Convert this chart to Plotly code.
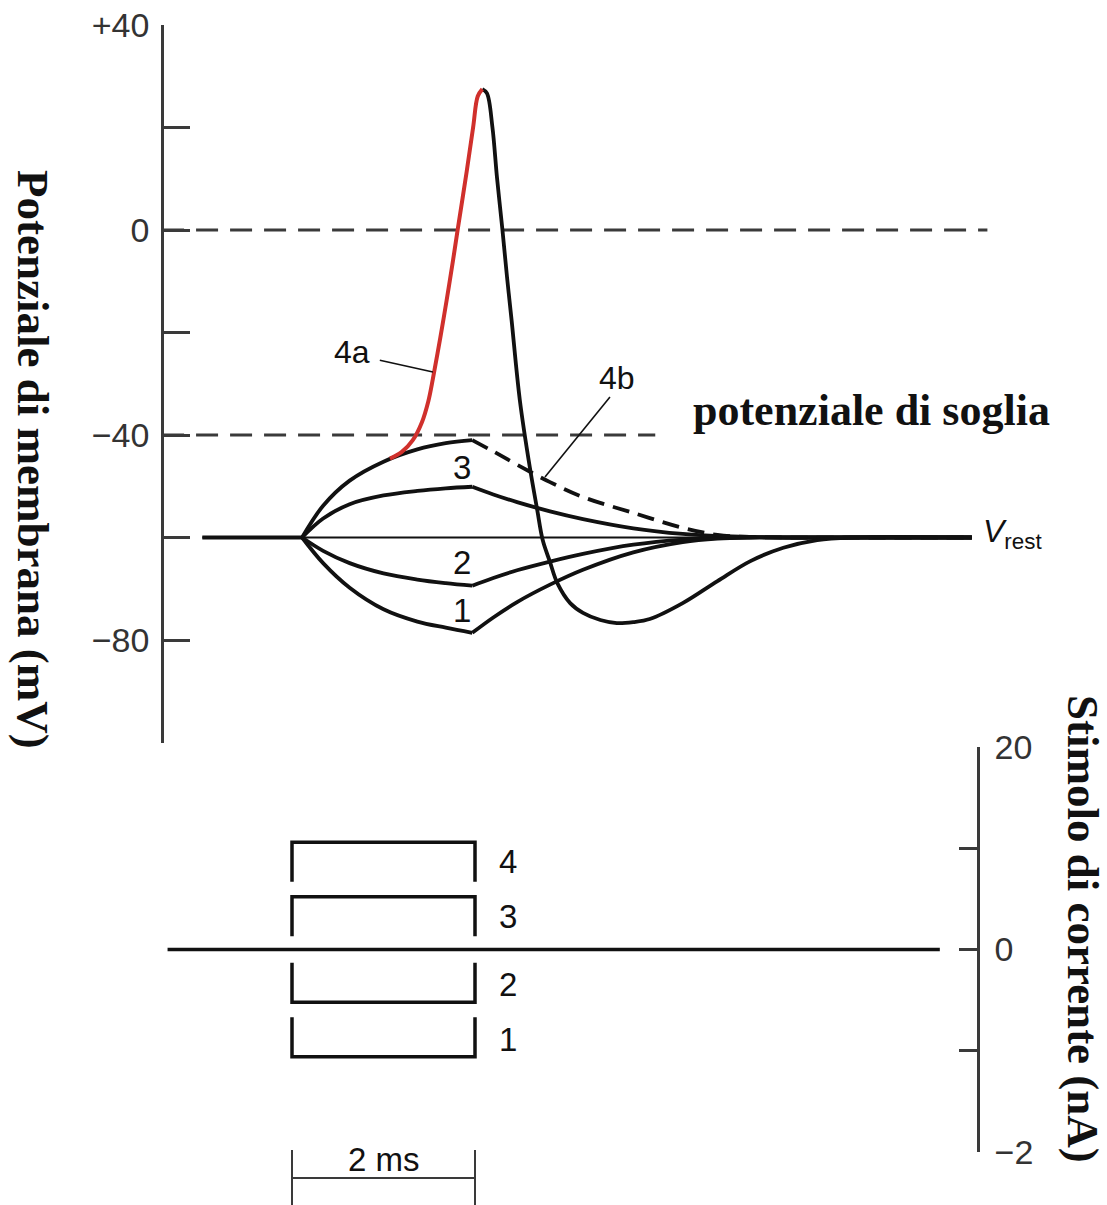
import plotly.graph_objects as go

# ---------------- data (time in ms, stimulus onset = 0; potential in mV) ----------------
V_REST = -60
V_THRESHOLD = -40
V_ZERO = 0

t_rest_line = [-0.98, 7.43]
t_pre = [-0.98, 0.11]

t_on = [0.11, 0.34, 0.63, 1.0, 1.37, 1.68, 1.97]
v1_on = [-60, -65.0, -69.8, -74.0, -76.4, -77.6, -78.6]
v2_on = [-60, -62.6, -65.0, -67.0, -68.2, -68.9, -69.4]
v3_on = [-60, -56.3, -53.5, -51.8, -50.9, -50.4, -50.1]
v4_on = [-60, -53.8, -48.9, -45.2, -42.8, -41.6, -41.0]

t_off = [1.97, 2.2, 2.46, 2.82, 3.18, 3.73, 4.27, 4.65, 5.0, 5.4, 7.43]
v1_off = [-78.6, -75.6, -72.6, -69.2, -66.3, -62.9, -60.9, -60.2, -60, -60, -60]
v2_off = [-69.4, -67.9, -66.4, -64.7, -63.2, -61.4, -60.4, -60.1, -60, -60, -60]
v3_off = [-50.1, -51.6, -53.1, -54.9, -56.4, -58.2, -59.3, -59.7, -59.9, -60, -60]
v4b_off = [-41.0, -43.2, -45.8, -49.2, -52.1, -55.2, -58.1, -59.5, -59.9, -60, -60]

t_4a = [1.07, 1.20, 1.32, 1.42, 1.49, 1.54, 1.62, 1.69, 1.76, 1.81, 1.91, 1.98, 2.03, 2.08]
v_4a = [-44.6, -43.3, -41.0, -37.5, -33.4, -29.0, -21.1, -13.7, -5.9, 0.0, 11.5, 20.1, 26.1, 27.5]

t_fall = [2.08, 2.13, 2.19, 2.24, 2.30, 2.35, 2.40, 2.49, 2.60, 2.68, 2.74, 2.82, 2.90,
          3.04, 3.18, 3.37, 3.55, 3.73, 3.91, 4.27, 4.65, 5.01, 5.37, 5.74, 6.10, 7.43]
v_fall = [27.5, 26.7, 20.1, 10.3, 0.0, -9.2, -17.6, -33.2, -46.4, -54.6, -60.5, -64.8, -68.9,
          -72.8, -74.7, -76.1, -76.7, -76.5, -75.9, -72.8, -68.5, -64.6, -62.0, -60.5, -60.0, -60.0]

t_zero_guide = [-1.42, 7.60]
t_threshold_guide = [-1.42, 3.97]

# stimulus (current) panel
stim_base_t = [-1.36, 7.08]
pulse_t = [0.0, 2.0]
pulse_names = ["1", "2", "3", "4"]
pulse_amp = [-1.06, -0.52, 0.52, 1.06]
SCALE_MS = 2

v_ticks = [-100, -80, -60, -40, -20, 0, 20, 40]
v_ticktext = ["", "\u221280", "", "\u221240", "", "0", "", "+40"]
i_ticks = [-2, -1, 0, 1, 2]
i_ticktext = ["\u22122", "", "0", "", "20"]

# ---------------- styling ----------------
W, H = 1107, 1205
BLACK = "#111111"
RED = "#d0302c"
AX = "#3a3a3a"
SANS = "Liberation Sans, Arial, Helvetica, sans-serif"
SERIF = "Liberation Serif, Times New Roman, serif"
LW = 3.8

fig = go.Figure()


def add_line(x, y, yaxis="y", color=BLACK, width=LW, dash=None, shape="spline"):
    ln = dict(color=color, width=width, shape=shape)
    if dash:
        ln["dash"] = dash
    if shape == "spline":
        ln["smoothing"] = 1
    fig.add_trace(go.Scatter(x=x, y=y, yaxis=yaxis, mode="lines", line=ln,
                             hoverinfo="skip", showlegend=False))


# guides
add_line(t_zero_guide, [V_ZERO, V_ZERO], color="#3a3a3a", width=2.8, dash="22px,12px", shape="linear")
add_line(t_threshold_guide, [V_THRESHOLD, V_THRESHOLD], color="#3a3a3a", width=2.8, dash="22px,12px",
         shape="linear")
add_line(t_rest_line, [V_REST, V_REST], width=2, shape="linear")
add_line(t_pre, [V_REST, V_REST], shape="linear")

# responses
for v_on, v_off in [(v1_on, v1_off), (v2_on, v2_off), (v3_on, v3_off)]:
    add_line(t_on, v_on)
    add_line(t_off, v_off)
add_line(t_on, v4_on)
add_line(t_off, v4b_off, dash="17px,9px")
add_line(t_fall, v_fall)
add_line(t_4a, v_4a, color=RED, width=4)

# stimulus panel
add_line(stim_base_t, [0, 0], yaxis="y2", width=3.5, shape="linear")
LEG = 0.39
for amp in pulse_amp:
    s = 1 if amp > 0 else -1
    add_line([pulse_t[0], pulse_t[0], pulse_t[1], pulse_t[1]],
             [amp - s * LEG, amp, amp, amp - s * LEG], yaxis="y2", width=3.5, shape="linear")

# ---------------- shapes ----------------
shapes = []
# leader lines
shapes.append(dict(type="line", xref="x", yref="y", x0=0.96, y0=-25.4, x1=1.54, y1=-27.7,
                   line=dict(color=BLACK, width=1.6)))
shapes.append(dict(type="line", xref="x", yref="y", x0=3.475, y0=-32.6, x1=2.765, y1=-48.2,
                   line=dict(color=BLACK, width=1.6)))
# 2 ms scale bar (paper y)
y_bar = 1 - 1178 / H
y_top = 1 - 1150 / H
shapes.append(dict(type="line", xref="x", yref="paper", x0=0, x1=SCALE_MS, y0=y_bar, y1=y_bar,
                   line=dict(color=AX, width=2)))
for xv in (0, SCALE_MS):
    shapes.append(dict(type="line", xref="x", yref="paper", x0=xv, x1=xv, y0=0, y1=y_top,
                       line=dict(color=AX, width=2)))

# ---------------- annotations ----------------
ann = []


def txt(x, y, text, size=33, xref="x", yref="y", family=SANS, xanchor="center", yanchor="middle",
        angle=0, color=BLACK):
    ann.append(dict(x=x, y=y, xref=xref, yref=yref, text=text, showarrow=False,
                    font=dict(size=size, family=family, color=color),
                    xanchor=xanchor, yanchor=yanchor, textangle=angle))


txt(0.656, -23.8, "4a", size=32)
txt(3.552, -28.9, "4b", size=32)
txt(1.86, -46.4, "3")
txt(1.86, -64.8, "2")
txt(1.86, -74.3, "1")
txt(7.53, -59.3, "<i>V</i><sub>rest</sub>", size=32, xanchor="left")
for name, amp in zip(pulse_names, pulse_amp):
    lab_y = amp - (0.19 if amp > 0 else -0.17)
    txt(2.24, lab_y, name, yref="y2", xanchor="left")
txt(SCALE_MS / 2, 1 - 1159 / H, f"{SCALE_MS} ms", size=33, yref="paper")
txt(871 / W, 1 - 410 / H, "<b>potenziale di soglia</b>", size=44, xref="paper", yref="paper", family=SERIF)
txt(33 / W, 1 - 459 / H, "<b>Potenziale di membrana (mV)</b>", size=45, xref="paper", yref="paper",
    family=SERIF, angle=90)
txt(1083 / W, 1 - 929 / H, "<b>Stimolo di corrente (nA)</b>", size=45, xref="paper", yref="paper",
    family=SERIF, angle=90)

fig.update_layout(
    width=W, height=H,
    margin=dict(l=0, r=0, t=0, b=0),
    paper_bgcolor="white", plot_bgcolor="white",
    showlegend=False,
    shapes=shapes, annotations=ann,
    xaxis=dict(range=[-292 / 91.5, (W - 292) / 91.5], visible=False, fixedrange=True),
    yaxis=dict(domain=[1 - 742.5 / H, 1 - 25 / H], range=[-100, 40], anchor="free",
               position=162 / W, showline=True, linecolor=AX, linewidth=2.5,
               ticks="inside", ticklen=26, tickwidth=2.5, tickcolor=AX,
               tickmode="array", tickvals=v_ticks, ticktext=v_ticktext,
               tickfont=dict(size=34, family=SANS, color="#333333"),
               ticklabelstandoff=5, showgrid=False, zeroline=False, automargin=False),
    yaxis2=dict(domain=[1 - 1152 / H, 1 - 747 / H], range=[-2, 2], anchor="free",
                position=978 / W, side="right", showline=True, linecolor=AX, linewidth=2.5,
                ticks="inside", ticklen=18, tickwidth=2.5, tickcolor=AX,
                tickmode="array", tickvals=i_ticks, ticktext=i_ticktext,
                tickfont=dict(size=34, family=SANS, color="#333333"),
                ticklabelstandoff=8, showgrid=False, zeroline=False, automargin=False),
)

fig.write_html("out.html",
               config={"displayModeBar": False},
               post_script="document.body.style.margin='0px';document.body.style.overflow='hidden';")
